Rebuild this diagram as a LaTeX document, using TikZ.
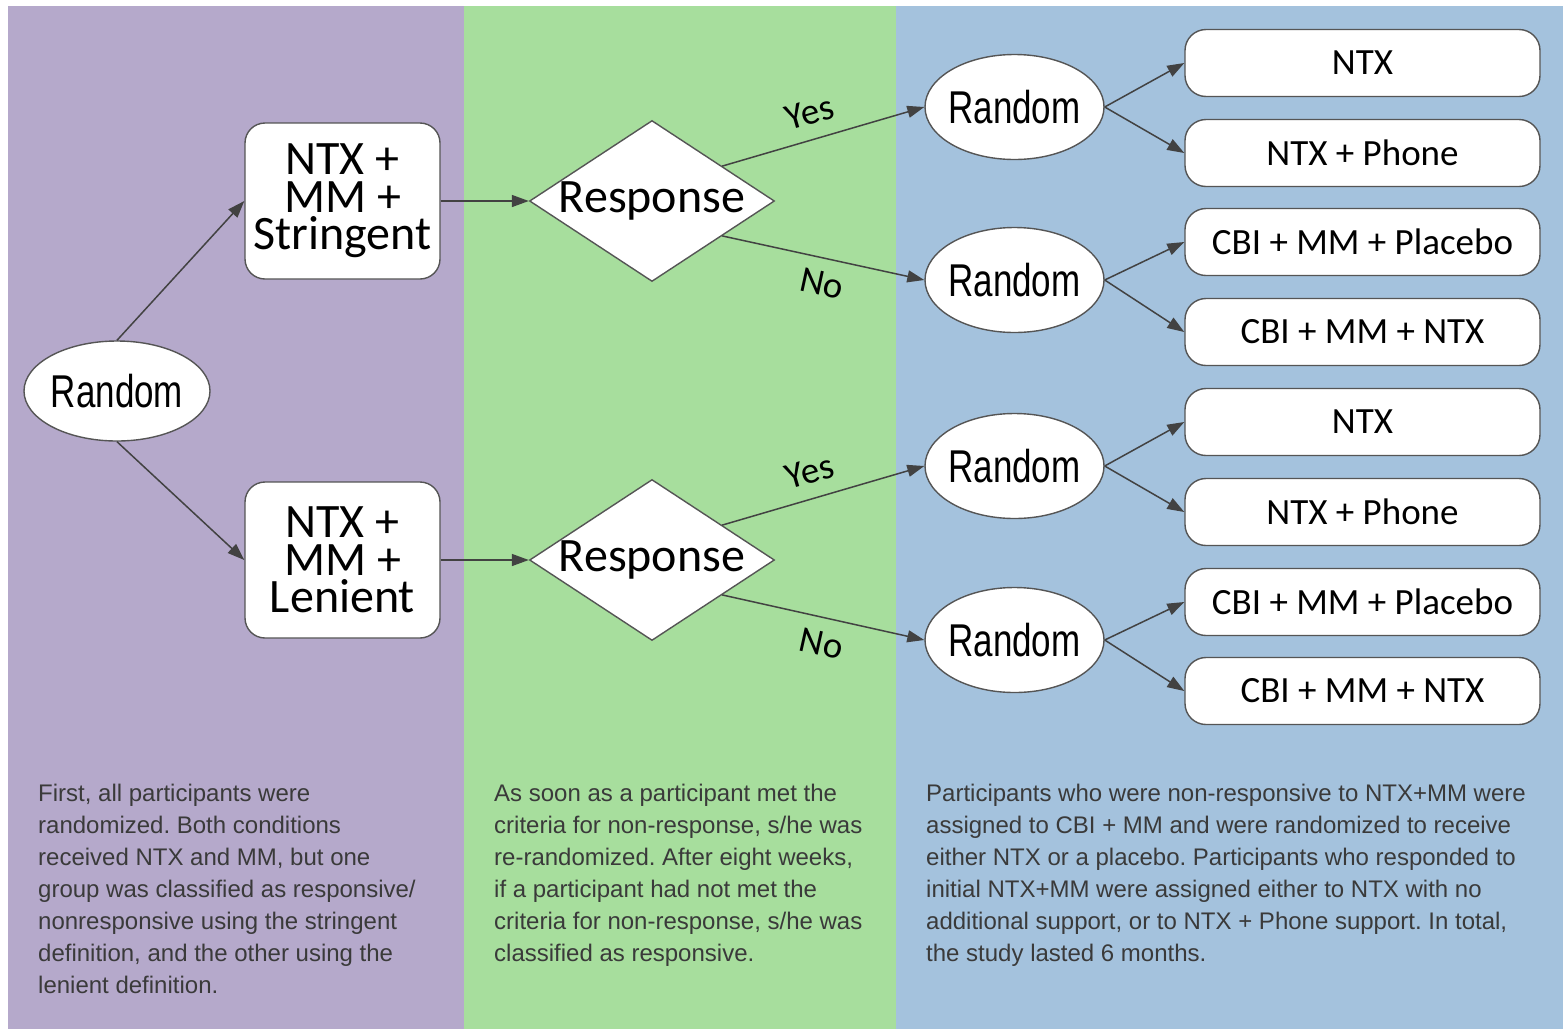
\documentclass[tikz,border=0pt]{standalone}
\usepackage{fontspec}
\setmainfont{Liberation Sans}
\newfontfamily\calfont{Carlito}
\newfontfamily\narrowfont[FakeStretch=0.76]{Liberation Sans}
\usetikzlibrary{shapes.geometric,arrows.meta,calc}

\definecolor{lanePurple}{RGB}{181,169,203}
\definecolor{laneGreen}{RGB}{167,222,157}
\definecolor{laneBlue}{RGB}{164,194,221}
\definecolor{edgeGray}{RGB}{66,66,66}
\definecolor{borderGray}{RGB}{85,85,85}
\definecolor{noteGray}{RGB}{58,58,58}

% let stacked lines keep a fixed baseline distance
\lineskiplimit=-100pt
\frenchspacing

\begin{document}
\begin{tikzpicture}[x=1pt,y=-1pt,
  randnode/.style={ellipse, draw=borderGray, line width=1.4pt, fill=white,
    inner sep=0pt, inner xsep=-3pt, minimum width=179pt, minimum height=105pt,
    font=\narrowfont\fontsize{46}{50}\selectfont},
  armbox/.style={rectangle, rounded corners=21pt, draw=borderGray, line width=1.4pt,
    fill=white, inner sep=0pt, minimum width=355pt, minimum height=67pt,
    font=\calfont\fontsize{37}{42}\selectfont},
  stagebox/.style={rectangle, rounded corners=20pt, draw=borderGray, line width=1.4pt,
    fill=white, inner sep=0pt, minimum width=195pt, minimum height=156pt, align=center,
    font=\calfont\fontsize{48}{37.5}\selectfont},
  decision/.style={diamond, draw=borderGray, line width=1.4pt, fill=white,
    inner sep=0pt, aspect=1.52, minimum width=245pt, minimum height=161pt,
    font=\calfont\fontsize{48}{52}\selectfont},
  flow/.style={draw=edgeGray, line width=1.5pt, -{Triangle[length=17pt,width=12pt]}},
  armlabel/.style={font=\calfont\fontsize{37}{40}\selectfont, inner sep=0pt, sloped},
  note/.style={anchor=base west, inner sep=0pt, text=noteGray,
    font=\fontsize{24}{28}\selectfont}
]
\useasboundingbox (0,0) rectangle (1563,1029);
\fill[white] (0,0) rectangle (1563,1029);

% three stage lanes
\fill[lanePurple] (8,6) rectangle (464,1029);
\fill[laneGreen] (464,6) rectangle (896,1029);
\fill[laneBlue] (896,6) rectangle (1563,1029);

% first randomization
\node[randnode, minimum width=186pt, minimum height=100pt] (r0) at (117,391) {Random};
\node[stagebox] (s1) at (342.5,201) {NTX +\\MM +\\Stringent};
\node[stagebox] (s2) at (342.5,560) {NTX +\\MM +\\Lenient};

% response decisions
\node[decision] (d1) at (652,201) {\makebox[0pt]{Response}};
\node[decision] (d2) at (652,560) {\makebox[0pt]{Response}};

% second randomizations
\node[randnode] (r1) at (1014.5,107) {Random};
\node[randnode] (r2) at (1014.5,280) {Random};
\node[randnode] (r3) at (1014.5,466) {Random};
\node[randnode] (r4) at (1014.5,640) {Random};

% treatment arms
\node[armbox] (b1) at (1362.5,63)  {NTX};
\node[armbox] (b2) at (1362.5,153) {NTX + Phone};
\node[armbox] (b3) at (1362.5,242) {CBI + MM + Placebo};
\node[armbox] (b4) at (1362.5,332) {CBI + MM + NTX};
\node[armbox] (b5) at (1362.5,422) {NTX};
\node[armbox] (b6) at (1362.5,512) {NTX + Phone};
\node[armbox] (b7) at (1362.5,602) {CBI + MM + Placebo};
\node[armbox] (b8) at (1362.5,691) {CBI + MM + NTX};

% connectors
\draw[flow] (r0.north) -- (s1.west);
\draw[flow] (r0.south) -- (s2.west);
\draw[flow] (s1.east) -- (d1.west);
\draw[flow] (s2.east) -- (d2.west);

\draw[flow] ($(d1.north)!0.57!(d1.east)$) -- node[armlabel, pos=0.47, above=14pt] {Yes} (r1.west);
\draw[flow] ($(d1.south)!0.57!(d1.east)$) -- node[armlabel, pos=0.52, below=13pt] {No} (r2.west);
\draw[flow] ($(d2.north)!0.57!(d2.east)$) -- node[armlabel, pos=0.47, above=14pt] {Yes} (r3.west);
\draw[flow] ($(d2.south)!0.57!(d2.east)$) -- node[armlabel, pos=0.52, below=13pt] {No} (r4.west);

\draw[flow] (r1.east) -- (b1.west);
\draw[flow] (r1.east) -- (b2.west);
\draw[flow] (r2.east) -- (b3.west);
\draw[flow] (r2.east) -- (b4.west);
\draw[flow] (r3.east) -- (b5.west);
\draw[flow] (r3.east) -- (b6.west);
\draw[flow] (r4.east) -- (b7.west);
\draw[flow] (r4.east) -- (b8.west);

% explanatory notes under each lane
\foreach \ln [count=\i] in {
  {First, all participants were},
  {randomized. Both conditions},
  {received NTX and MM, but one},
  {group was classified as responsive/},
  {nonresponsive using the stringent},
  {definition, and the other using the},
  {lenient definition.}}
  \node[note] (na-\i) at (38,{769.7+32*\i}) {\ln};

\foreach \ln [count=\i] in {
  {As soon as a participant met the},
  {criteria for non-response, s/he was},
  {re-randomized. After eight weeks,},
  {if a participant had not met the},
  {criteria for non-response, s/he was},
  {classified as responsive.}}
  \node[note] (nb-\i) at (494,{769.7+32*\i}) {\ln};

\foreach \ln [count=\i] in {
  {Participants who were non-responsive to NTX+MM were},
  {assigned to CBI + MM and were randomized to receive},
  {either NTX or a placebo. Participants who responded to},
  {initial NTX+MM were assigned either to NTX with no},
  {additional support, or to NTX + Phone support. In total,},
  {the study lasted 6 months.}}
  \node[note] (nc-\i) at (926,{769.7+32*\i}) {\ln};
\end{tikzpicture}
\end{document}
